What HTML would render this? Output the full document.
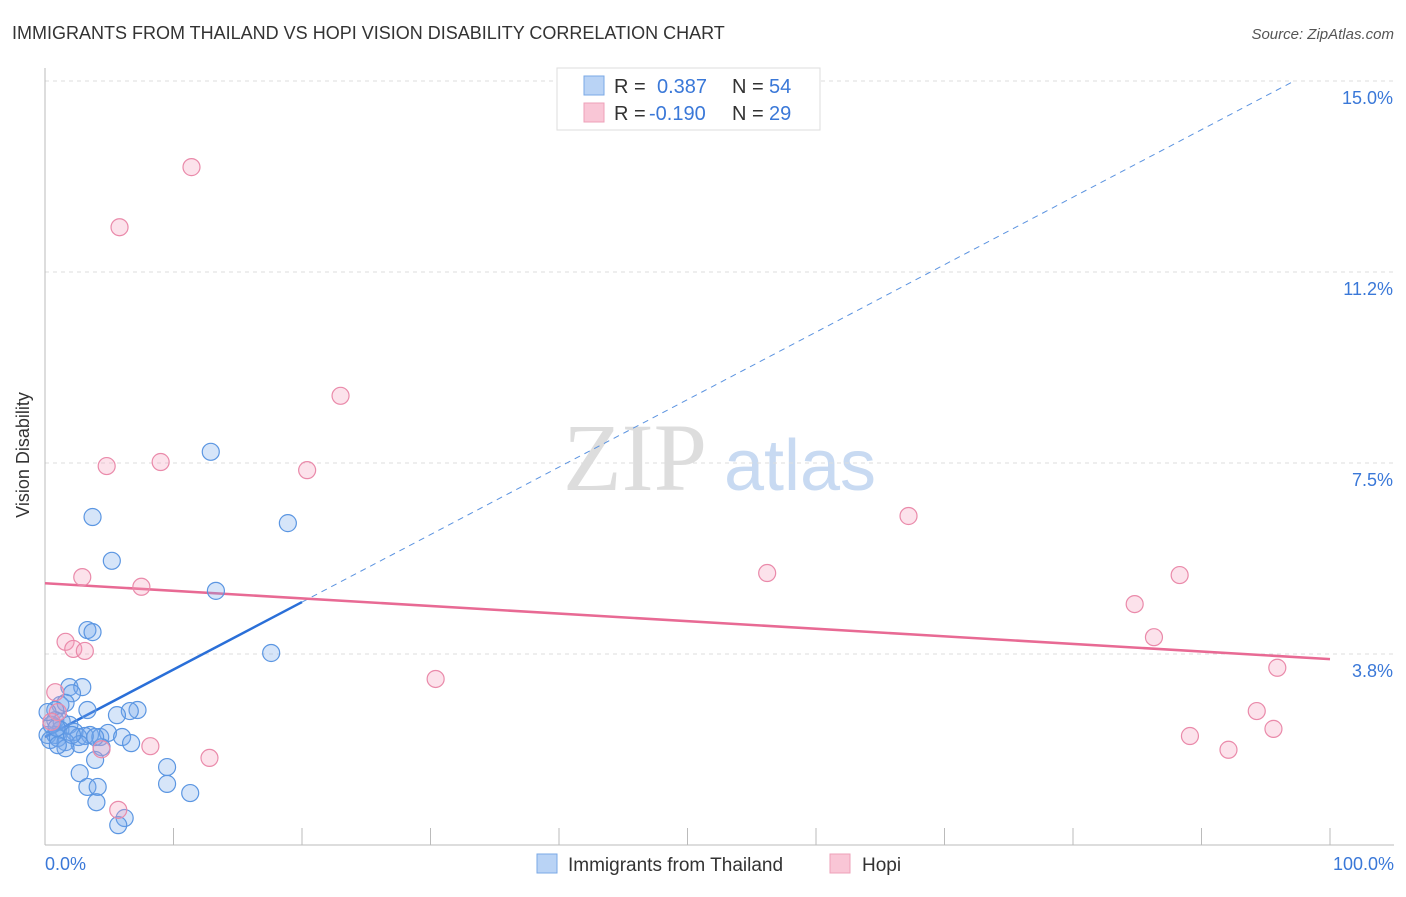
<!DOCTYPE html>
<html><head><meta charset="utf-8"><style>
body{margin:0;background:#fff;font-family:"Liberation Sans",sans-serif;}
svg text{font-family:"Liberation Sans",sans-serif;}
</style></head><body>
<svg id="chart" width="1406" height="892" xmlns="http://www.w3.org/2000/svg">
<text x="12" y="39" font-size="18" fill="#333">IMMIGRANTS FROM THAILAND VS HOPI VISION DISABILITY CORRELATION CHART</text>
<text x="1394" y="39" font-size="15" fill="#555" text-anchor="end" font-style="italic">Source: ZipAtlas.com</text>
<text x="29" y="455" font-size="18" fill="#333" text-anchor="middle" transform="rotate(-90 29 455)">Vision Disability</text>
<g>
<text x="635" y="490" font-size="96" fill="#ddd" text-anchor="middle" font-family="Liberation Serif" style="font-family:'Liberation Serif',serif">ZIP</text>
<text x="800" y="490" font-size="72" fill="#c8daf2" text-anchor="middle">atlas</text>
</g>
<g id="grid"></g><g id="axes"></g><g id="lines"></g><g id="pts"></g>
<g>
<rect x="557" y="68" width="263" height="62" fill="#fff" stroke="#ddd"/>
<rect x="584" y="76" width="20" height="19" fill="#b9d3f5" stroke="#7aa8e6"/>
<rect x="584" y="103" width="20" height="19" fill="#f9c6d6" stroke="#eea0b8"/>
<text x="614" y="93" font-size="20" fill="#333">R =</text>
<text x="657" y="93" font-size="20" fill="#3a78d8">0.387</text>
<text x="732" y="93" font-size="20" fill="#333">N =</text>
<text x="769" y="93" font-size="20" fill="#3a78d8">54</text>
<text x="614" y="120" font-size="20" fill="#333">R =</text>
<text x="649" y="120" font-size="20" fill="#3a78d8">-0.190</text>
<text x="732" y="120" font-size="20" fill="#333">N =</text>
<text x="769" y="120" font-size="20" fill="#3a78d8">29</text>
</g>
<g>
<rect x="537" y="854" width="20" height="19" fill="#b9d3f5" stroke="#7aa8e6"/>
<text x="568" y="871" font-size="19" fill="#333">Immigrants from Thailand</text>
<rect x="830" y="854" width="20" height="19" fill="#f9c6d6" stroke="#eea0b8"/>
<text x="862" y="871" font-size="19" fill="#333">Hopi</text>
</g>
</svg>
<script>
const yTicks=[3.75,7.5,11.25,15];
const yTickLabels=["3.8%","7.5%","11.2%","15.0%"];
const thaiX=[12.9,3.7,18.9,5.2,13.3,3.3,3.7,17.6,1.9,2.9,2.1,1.2,1.6,0.8,3.3,7.2,6.6,5.6,0.8,1.3,1.9,1.2,0.2,0.8,2.3,3.5,4.3,4.9,6.0,2.6,3.1,0.4,1.0,1.6,2.7,6.7,4.4,1.6,3.9,2.7,9.5,9.5,3.3,4.1,11.3,4.0,6.2,5.7,0.5,0.2,0.9,2.1,1.0,3.9];
const thaiY=[7.72,6.44,6.32,5.58,4.99,4.22,4.18,3.77,3.10,3.10,2.98,2.75,2.79,2.65,2.65,2.65,2.63,2.55,2.45,2.42,2.36,2.26,2.16,2.16,2.22,2.16,2.12,2.20,2.12,2.12,2.14,2.06,2.10,2.02,1.98,2.00,1.92,1.90,1.67,1.41,1.53,1.20,1.14,1.14,1.02,0.84,0.53,0.39,2.36,2.61,2.30,2.16,1.96,2.12];
const hopiX=[11.4,5.8,23.0,4.8,9.0,20.4,67.2,2.9,7.5,56.2,88.3,84.8,86.3,1.6,2.2,3.1,0.8,30.4,95.9,94.3,89.1,95.6,92.1,8.2,4.4,12.8,5.7,1.0,0.5];
const hopiY=[13.31,12.13,8.82,7.44,7.52,7.36,6.46,5.26,5.07,5.34,5.30,4.73,4.08,3.99,3.85,3.81,3.00,3.26,3.48,2.63,2.14,2.28,1.87,1.94,1.88,1.71,0.69,2.61,2.42];
const thaiTrend=[2.12,0.1325];
const hopiTrend=[5.14,-0.0149];
const NS="http://www.w3.org/2000/svg";
const X=v=>45+v*12.85, Y=v=>845-v*50.93;
function mk(p,tag,a){const e=document.createElementNS(NS,tag);for(const k in a)e.setAttribute(k,a[k]);document.getElementById(p).appendChild(e);return e;}
yTicks.forEach((t,i)=>{
 const l=mk('grid','line',{x1:45,x2:1394,y1:Y(t),y2:Y(t),stroke:'#ddd','stroke-dasharray':'4,4'});
 
 
 const tx=mk('grid','text',{x:1393,y:Y(t)+23,'font-size':18,fill:'#3a78d8','text-anchor':'end'});
 tx.textContent=yTickLabels[i];
 
 
});
mk('axes','line',{x1:45,x2:45,y1:68,y2:845,stroke:'#bbb'});
mk('axes','line',{x1:45,x2:1394,y1:845,y2:845,stroke:'#bbb'});
for(let i=0;i<=10;i++){mk('axes','line',{x1:X(i*10),x2:X(i*10),y1:828,y2:845,stroke:'#bbb'});}
let t0=mk('axes','text',{x:45,y:870,'font-size':18,fill:'#3a78d8'});t0.textContent='0.0%';


let t1=mk('axes','text',{x:1394,y:870,'font-size':18,fill:'#3a78d8','text-anchor':'end'});t1.textContent='100.0%';


const xe=(15-thaiTrend[0])/thaiTrend[1];
let d=mk('lines','line',{x1:X(20),y1:Y(thaiTrend[0]+20*thaiTrend[1]),x2:X(xe),y2:Y(15),stroke:'#5b93e0','stroke-width':1,'stroke-dasharray':'6,5'});


let s=mk('lines','line',{x1:X(0),y1:Y(thaiTrend[0]),x2:X(20),y2:Y(thaiTrend[0]+20*thaiTrend[1]),stroke:'#2a6fd8','stroke-width':2.5});


let h=mk('lines','line',{x1:X(0),y1:Y(hopiTrend[0]),x2:X(100),y2:Y(hopiTrend[0]+100*hopiTrend[1]),stroke:'#e86a94','stroke-width':2.5});


thaiX.forEach((v,i)=>{const c=mk('pts','circle',{cx:X(v),cy:Y(thaiY[i]),r:8.5,fill:'rgba(120,170,235,0.3)',stroke:'#5b96e2','stroke-width':1.2});
 
 });
hopiX.forEach((v,i)=>{const c=mk('pts','circle',{cx:X(v),cy:Y(hopiY[i]),r:8.5,fill:'rgba(245,160,190,0.3)',stroke:'#ea8aaa','stroke-width':1.2});
 
 });
</script>
</body></html>
